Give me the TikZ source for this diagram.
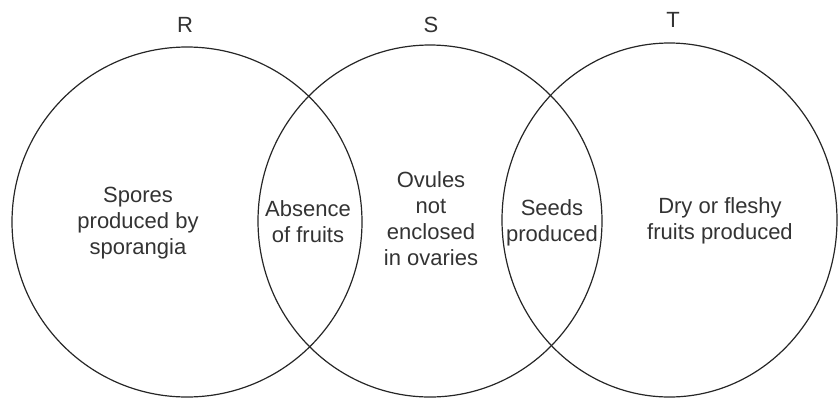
\documentclass[tikz,border=0pt]{standalone}
\usepackage{fontspec}
\setmainfont{Liberation Sans}
\usetikzlibrary{calc}

\begin{document}
\begin{tikzpicture}[x=1pt,y=-1pt,line width=1.2pt,draw=black!85,
  txt/.style={align=center,inner sep=0pt,text=black!80,font=\fontsize{22}{26}\selectfont}]
\useasboundingbox (0,0) rectangle (838,400);
\coordinate (R) at (187,222);
\coordinate (S) at (430,221);
\coordinate (T) at (669.5,220);

\draw (R) circle (175pt);
\draw (S) ellipse [x radius=172pt,y radius=176pt];
\draw (T) ellipse [x radius=167.5pt,y radius=177pt];

\node[txt] (labR) at (185,25) {R};
\node[txt] (labS) at (431,25) {S};
\node[txt] (labT) at (673,20) {T};

\node[txt] (spores) at (138,223) {Spores\\produced by\\sporangia};
\node[txt] (absence) at (308,222) {Absence\\of fruits};
\node[txt] (ovules) at (431,219) {Ovules\\not\\enclosed\\in ovaries};
\node[txt] (seeds) at (552,223) {Seeds\\produced};
\node[txt] (fruits) at (720,221) {Dry or fleshy\\fruits produced};
\end{tikzpicture}
\end{document}
